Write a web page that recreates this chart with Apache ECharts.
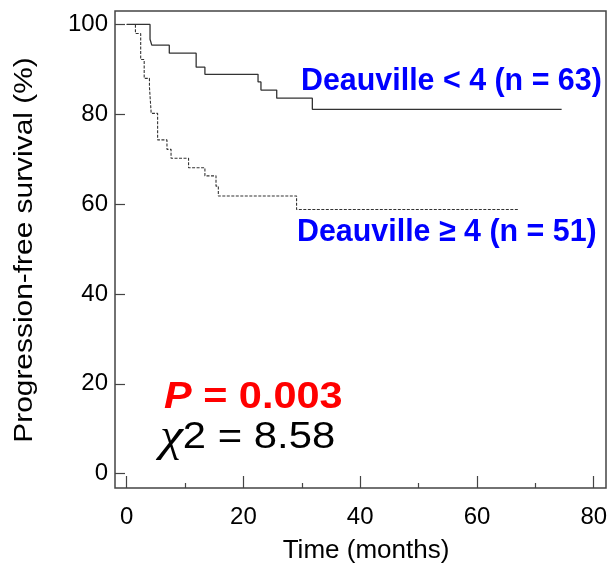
<!DOCTYPE html>
<html>
<head>
<meta charset="utf-8">
<script src="https://cdn.jsdelivr.net/npm/echarts@6/dist/echarts.min.js"></script>
<style>html,body{margin:0;padding:0;background:#fff}#c{width:615px;height:576px}</style>
</head>
<body>
<div id="c"></div>
<script>
// Deauville < 4 (n = 63): [time (months), survival (%)]
var lowTimes = [0, 4.0, 4.3, 7.3, 11.9, 13.4, 22.5, 23.0, 25.7, 31.8, 74.5];
var lowSurv  = [100, 96.7, 95.4, 93.6, 90.5, 88.9, 87.2, 85.4, 83.6, 81.1, 81.1];
// Deauville >= 4 (n = 51)
var highTimes = [0, 1.5, 2.4, 3.0, 3.9, 4.2, 5.3, 6.9, 7.6, 10.6, 13.4, 15.3, 15.7, 29.1, 67.0];
var highSurv  = [100, 98.0, 92.2, 88.0, 86.1, 80.2, 74.3, 72.2, 70.2, 68.1, 66.3, 64.0, 61.8, 58.8, 58.8];
var xMajorTicks = [0, 20, 40, 60, 80];
var xMinorTicks = [10, 30, 50, 70];
var yTicks = [0, 20, 40, 60, 80, 100];
var labelLow = 'Deauville < 4 (n = 63)';
var labelHigh = 'Deauville \u2265 4 (n = 51)';
var xTitle = 'Time (months)';
var yTitle = 'Progression-free survival (%)';

function pairs(t, s) { return t.map(function (v, i) { return [v, s[i]]; }); }

var FONT = 'Liberation Sans, Arial, sans-serif';
var chart = echarts.init(document.getElementById('c'), null, {renderer: 'canvas'});
chart.setOption({
  animation: false,
  backgroundColor: '#fff',
  grid: {left: 115, right: 9, top: 11, bottom: 88, show: true, borderColor: '#444', borderWidth: 1.5, backgroundColor: 'transparent'},
  xAxis: [{
    type: 'value', position: 'bottom', min: -2, max: 82.1,
    axisLine: {show: false, onZero: false},
    splitLine: {show: false},
    axisTick: {show: true, inside: true, length: 12, customValues: xMajorTicks, lineStyle: {color: '#444', width: 1.2}},
    axisLabel: {show: true, customValues: xMajorTicks, margin: 17, color: '#000', fontSize: 24, fontFamily: FONT}
  }, {
    type: 'value', position: 'bottom', min: -2, max: 82.1,
    axisLine: {show: false, onZero: false},
    splitLine: {show: false},
    axisTick: {show: true, inside: true, length: 5, customValues: xMinorTicks, lineStyle: {color: '#444', width: 1.2}},
    axisLabel: {show: false}
  }],
  yAxis: [{
    type: 'value', min: -3.2, max: 103,
    axisLine: {show: false, onZero: false},
    splitLine: {show: false},
    axisTick: {show: true, inside: true, length: 10, customValues: yTicks, lineStyle: {color: '#444', width: 1.2}},
    axisLabel: {show: true, customValues: yTicks, margin: 7, color: '#000', fontSize: 24, fontFamily: FONT}
  }],
  series: [{
    type: 'line', step: 'end', xAxisIndex: 0, showSymbol: false, symbol: 'none',
    data: pairs(lowTimes, lowSurv),
    lineStyle: {color: '#333', width: 1.3, type: 'solid'}
  }, {
    type: 'line', step: 'end', xAxisIndex: 0, showSymbol: false, symbol: 'none',
    data: pairs(highTimes, highSurv),
    lineStyle: {color: '#333', width: 1.1, type: [3, 1.5]}
  }],
  graphic: [
    {type: 'text', x: 301, y: 81, scaleX: 0.95, style: {text: labelLow, x: 0, y: 0, align: 'left', verticalAlign: 'middle', font: 'bold 32px ' + FONT, fill: '#0000ff'}},
    {type: 'text', x: 297, y: 232, scaleX: 0.95, style: {text: labelHigh, x: 0, y: 0, align: 'left', verticalAlign: 'middle', font: 'bold 32px ' + FONT, fill: '#0000ff'}},
    {type: 'text', x: 164, y: 398, scaleX: 1.12, style: {
      text: '{i|P}{b| = 0.003}', x: 0, y: 0, align: 'left', verticalAlign: 'middle',
      rich: {i: {font: 'italic bold 37px ' + FONT, fill: '#ff0000'}, b: {font: 'bold 37px ' + FONT, fill: '#ff0000'}}
    }},
    {type: 'text', x: 160, y: 438, scaleX: 1.13, style: {
      text: '{c|\u03c7}{n|2 = 8.58}', x: 0, y: 0, align: 'left', verticalAlign: 'middle',
      rich: {c: {font: 'italic 46px Liberation Serif, serif', fill: '#000'}, n: {font: '37px ' + FONT, fill: '#000'}}
    }},
    {type: 'text', x: 366, y: 551, style: {text: xTitle, x: 0, y: 0, align: 'center', verticalAlign: 'middle', font: '26px ' + FONT, fill: '#000'}},
    {type: 'text', x: 25, y: 250, rotation: Math.PI / 2, scaleX: 1.15, style: {text: yTitle, x: 0, y: 0, align: 'center', verticalAlign: 'middle', font: '26px ' + FONT, fill: '#000'}}
  ]
});
</script>
</body>
</html>
